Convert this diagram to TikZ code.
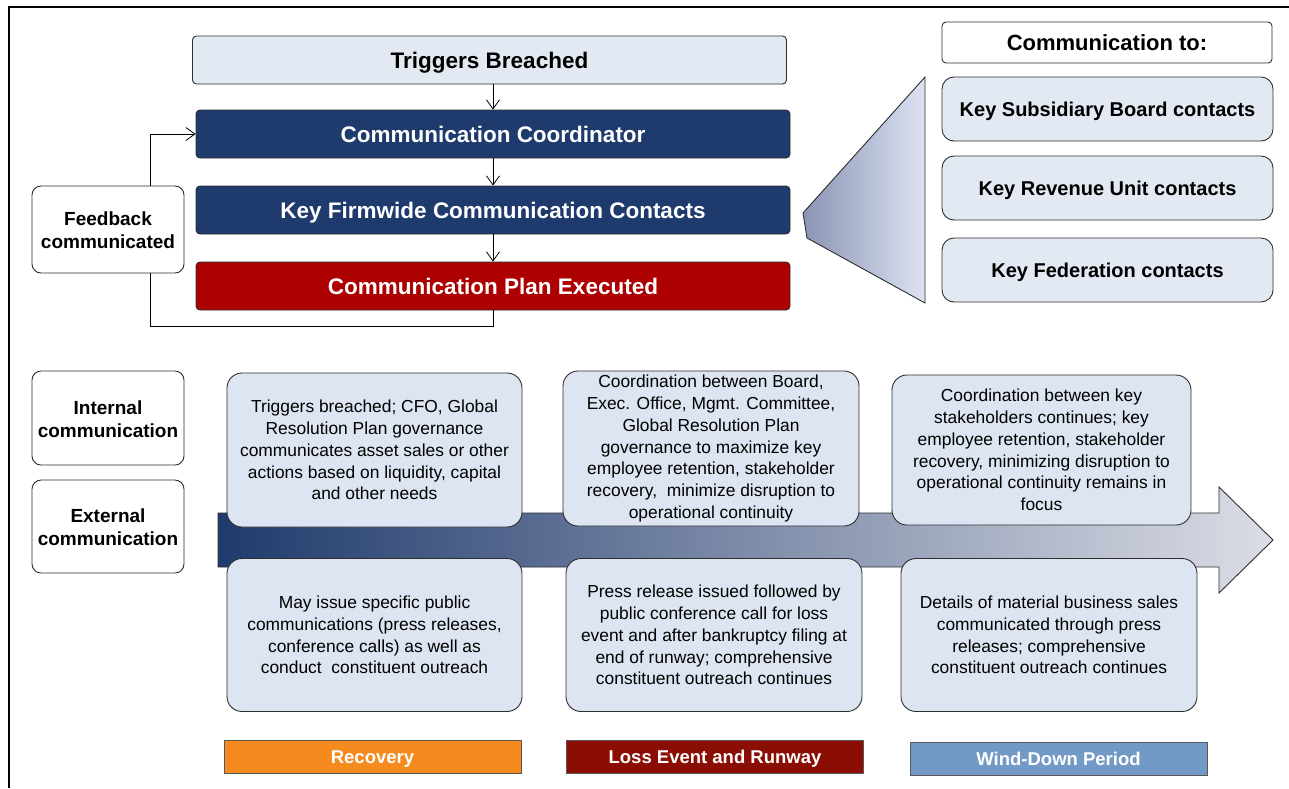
\documentclass[tikz,border=0pt]{standalone}
\usepackage{fontspec}
\setmainfont{Liberation Sans}
\usetikzlibrary{arrows.meta}
\definecolor{navy}{HTML}{1F3A6C}
\definecolor{darkred}{HTML}{AD0000}
\definecolor{lightbox}{HTML}{E2E9F3}
\definecolor{textbox}{HTML}{DCE5F1}
\definecolor{edge}{HTML}{2E2E2E}
\definecolor{orangeph}{HTML}{F58A1F}
\definecolor{redph}{HTML}{8B0E05}
\definecolor{blueph}{HTML}{7399C6}
\definecolor{arrowL}{HTML}{1F3A6C}
\definecolor{arrowR}{HTML}{DCDDE5}
\definecolor{triL}{HTML}{8A95B5}
\definecolor{triR}{HTML}{DDE3F2}
\begin{document}
\begin{tikzpicture}[x=1pt,y=-1pt,
  bar/.style={draw=edge, line width=0.9pt, rounded corners=4pt, minimum width=594pt, minimum height=48pt, inner sep=0pt, text height=16pt, text depth=0pt, font=\bfseries\fontsize{22.5}{26}\selectfont},
  sidebox/.style={draw=edge, line width=0.9pt, fill=white, rounded corners=9pt, minimum width=152pt, inner sep=0pt, align=center, font=\bfseries\fontsize{19}{23}\selectfont},
  contact/.style={draw=edge, line width=0.9pt, fill=lightbox, rounded corners=12pt, minimum width=331pt, minimum height=64pt, inner sep=0pt, text height=14.3pt, text depth=0pt, font=\bfseries\fontsize{20}{24}\selectfont},
  tbox/.style={draw=edge, line width=0.9pt, fill=textbox, rounded corners=15pt, minimum width=296pt, minimum height=153pt, inner sep=0pt, align=center, font=\fontsize{17.4}{21.8}\selectfont},
  phase/.style={draw=edge!80, line width=1pt, minimum width=297pt, minimum height=33pt, inner sep=0pt, text=white, text height=13.3pt, text depth=0pt, font=\bfseries\fontsize{18.5}{22}\selectfont},
  link/.style={draw=black, line width=0.8pt},
  arr/.style={link, -{Straight Barb[length=9pt,width=13pt]}}
]
\useasboundingbox (0,0) rectangle (1289,788);

% frame
\draw[line width=1.6pt, black] (9,788) -- (9,7) -- (1289,7);

% top flow
\node[bar, fill=lightbox] (trig) at (489.5,60) {Triggers Breached};
\node[bar, fill=navy, text=white] (cc) at (493,134) {Communication Coordinator};
\node[bar, fill=navy, text=white] (kfc) at (493,210) {Key Firmwide Communication Contacts};
\node[bar, fill=darkred, text=white] (cpe) at (493,286) {Communication Plan Executed};

\draw[arr] (trig.south -| cc.north) -- (cc.north);
\draw[arr] (cc.south) -- (kfc.north);
\draw[arr] (kfc.south) -- (cpe.north);

% feedback
\node[sidebox, minimum height=87pt] (fb) at (108,229.5) {\strut Feedback\\communicated};
\coordinate (fx) at (150,326);
\draw[arr] (fx |- fb.north) |- (cc.west);
\draw[link] (fx |- fb.south) -- (fx) -| (cpe.south);

% right side
\node[draw=edge, line width=0.9pt, fill=white, rounded corners=4pt, minimum width=330pt, minimum height=41pt, inner sep=0pt, text height=15.8pt, text depth=0pt, font=\bfseries\fontsize{22}{26}\selectfont] (cto) at (1107,42.5) {Communication to:};
\node[contact] (ksb) at (1107.5,109) {Key Subsidiary Board contacts};
\node[contact] (kru) at (1107.5,188) {Key Revenue Unit contacts};
\node[contact] (kfed) at (1107.5,270) {Key Federation contacts};

% funnel triangle
\draw[draw=edge, line width=0.9pt, left color=triL, right color=triR]
  (803,213) -- (925,77) -- (925,303) -- (807,238) -- cycle;

% big arrow
\draw[draw=edge, line width=0.9pt, left color=arrowL, right color=arrowR]
  (218,513) -- (1219,513) -- (1219,487) -- (1273,540) -- (1219,593) -- (1219,567) -- (218,567) -- cycle;

% left labels
\node[sidebox, minimum height=94pt] (ic) at (108,418) {\strut Internal\\communication};
\node[sidebox, minimum height=93pt] (ec) at (108,526.5) {\strut External\\communication};

% internal boxes
\node[tbox, minimum width=295pt, minimum height=154pt] (i1) at (374.5,450) {Triggers breached; CFO, Global\\Resolution Plan governance\\communicates asset sales or other\\actions based on liquidity, capital\\and other needs};
\node[tbox, minimum height=155pt] (i2) at (711,448.5) {Coordination between Board,\\Exec. Office, Mgmt. Committee,\\Global Resolution Plan\\governance to maximize key\\employee retention, stakeholder\\recovery,~~minimize disruption to\\operational continuity};
\node[tbox, minimum width=299pt, minimum height=150pt] (i3) at (1041.5,450) {Coordination between key\\stakeholders continues; key\\employee retention, stakeholder\\recovery, minimizing disruption to\\operational continuity remains in\\focus};

% external boxes
\node[tbox, minimum width=295pt] (e1) at (374.5,635) {May issue specific public\\communications (press releases,\\conference calls) as well as\\conduct~~constituent outreach};
\node[tbox] (e2) at (714,635) {Press release issued followed by\\public conference call for loss\\event and after bankruptcy filing at\\end of runway; comprehensive\\constituent outreach continues};
\node[tbox] (e3) at (1049,635) {Details of material business sales\\communicated through press\\releases; comprehensive\\constituent outreach continues};

% phases
\node[phase, fill=orangeph] (p1) at (372.5,756.5) {Recovery};
\node[phase, fill=redph] (p2) at (715,756.5) {Loss Event and Runway};
\node[phase, fill=blueph] (p3) at (1058.5,758.5) {Wind-Down Period};
\end{tikzpicture}
\end{document}
